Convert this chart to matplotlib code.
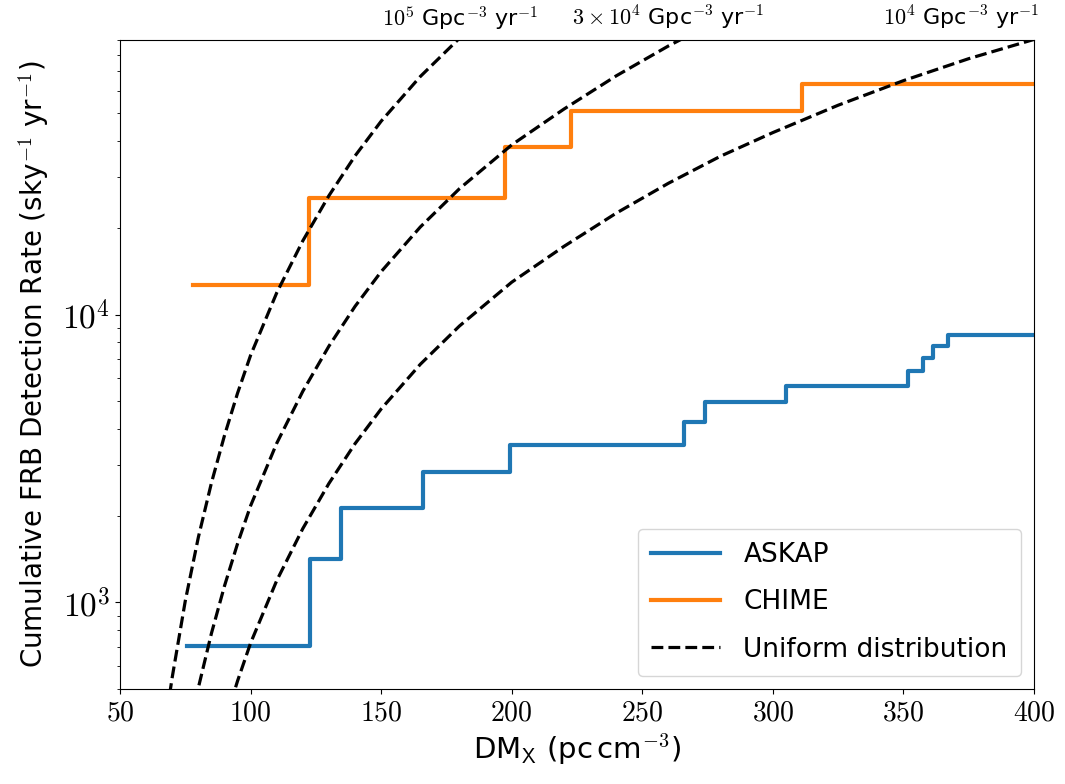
import matplotlib
matplotlib.use('Agg')
import matplotlib.pyplot as plt
from matplotlib.ticker import FuncFormatter, LogLocator, NullFormatter
import numpy as np

plt.rcParams['mathtext.fontset'] = 'cm'

# ASKAP cumulative detections (step edges, DM_X in pc cm^-3)
askap_dm = [75.5, 122.8, 134.5, 166.2, 199.3, 266.1, 274.0, 304.9, 351.6, 357.4, 361.2, 366.9, 400.0]
askap_rate = [707, 1414, 2121, 2828, 3535, 4242, 4949, 5656, 6363, 7070, 7777, 8484, 8484]

# CHIME cumulative detections
chime_dm = [77.8, 122.2, 197.4, 222.6, 311.3, 400.0]
chime_rate = [12700, 25400, 38100, 50800, 63500, 63500]

# uniform-density model: detection rate per unit volumetric rate
model_dm = [68, 70, 75, 80, 85, 90, 95, 100, 110, 120, 130, 140, 150, 165, 180,
            200, 220, 240, 260, 280, 300, 325, 350, 375, 400]
model_vol = [0.00417, 0.00550, 0.01013, 0.01684, 0.0260, 0.0380, 0.0533, 0.0722, 0.119,
             0.1805, 0.259, 0.356, 0.470, 0.672, 0.913, 1.296, 1.726, 2.251, 2.86, 3.553,
             4.29, 5.34, 6.50, 7.75, 9.04]
densities = [1e5, 3e4, 1e4]
density_labels = [r'$10^5$ Gpc$^{-3}$ yr$^{-1}$',
                  r'$3\times10^4$ Gpc$^{-3}$ yr$^{-1}$',
                  r'$10^4$ Gpc$^{-3}$ yr$^{-1}$']
label_dm = [180.2, 259.8, 372.0]

fig = plt.figure(figsize=(10.65, 7.84), dpi=100)
ax = fig.add_axes([0.1127, 0.1212, 0.8582, 0.8278])

ax.step(askap_dm, askap_rate, where='post', color='tab:blue', lw=3, label='ASKAP')
ax.step(chime_dm, chime_rate, where='post', color='tab:orange', lw=3, label='CHIME')

vol = np.array(model_vol)
for i, n in enumerate(densities):
    ax.plot(model_dm, vol * n, 'k--', lw=2.3,
            label='Uniform distribution' if i == 0 else None)

for lab, x in zip(density_labels, label_dm):
    ax.text(x, 1.012, lab, transform=ax.get_xaxis_transform(), ha='center', va='bottom',
            fontsize=16)

ax.set_yscale('log')
ax.set_xlim(50, 400)
ax.set_ylim(500, 9e4)
ax.set_xticks(np.arange(50, 401, 50))
ax.xaxis.set_major_formatter(FuncFormatter(lambda v, p: r'$%d$' % v))
ax.yaxis.set_major_locator(LogLocator(base=10))
ax.yaxis.set_major_formatter(FuncFormatter(lambda v, p: r'$10^{%d}$' % round(np.log10(v))))
ax.yaxis.set_minor_formatter(NullFormatter())
ax.tick_params(axis='x', labelsize=20)
ax.tick_params(axis='y', labelsize=24)

ax.set_xlabel(r'DM$_\mathsf{X}$ (pc$\,$cm$^{-3}$)', fontsize=21)
ax.set_ylabel(r'Cumulative FRB Detection Rate (sky$^{-1}$ yr$^{-1}$)', fontsize=20, labelpad=8)

ax.legend(loc='lower right', fontsize=19, handlelength=2.6, labelspacing=0.8,
          handletextpad=0.9, borderpad=0.5)

plt.savefig('out.png')
